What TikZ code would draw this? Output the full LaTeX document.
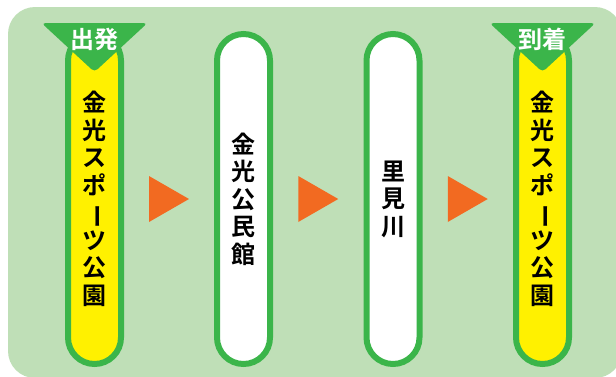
\documentclass[tikz,border=0pt]{standalone}
\usepackage{fontspec}
\usepackage{graphicx}
\newfontfamily\jp{Noto Sans CJK JP Bold}
\definecolor{bggreen}{HTML}{BFDFB7}
\definecolor{pillgreen}{HTML}{3BB54A}
\definecolor{pillyellow}{HTML}{FFF100}
\definecolor{arroworange}{HTML}{F26A21}
\newcommand{\vbar}{\rotatebox[origin=c]{-90}{ー}}
\tikzset{
  pill/.style={draw=pillgreen, line width=6pt, rounded corners=26.5pt,
    minimum width=53pt, minimum height=330pt, inner sep=0pt, align=center,
    font=\jp\fontsize{24}{27.5}\selectfont},
  endpill/.style={pill, fill=pillyellow},
  midpill/.style={pill, fill=white},
  flag/.style={fill=pillgreen, rounded corners=4pt},
  flaglabel/.style={text=white, inner sep=0pt, font=\jp\fontsize{24}{24}\selectfont},
  arrowtri/.style={fill=arroworange}
}
\begin{document}
\begin{tikzpicture}[x=1pt,y=-1pt]
\useasboundingbox (0,0) rectangle (616,376);
\fill[bggreen, rounded corners=27pt] (8,7) rectangle (622,378);

\node[endpill] (p1) at (94.5,199) {金\\光\\ス\\ポ\\\vbar\\ツ\\公\\園};
\node[midpill] (p2) at (243.5,199) {金\\光\\公\\民\\館};
\node[midpill] (p3) at (393,199) {里\\見\\川};
\node[endpill] (p4) at (542.5,199) {金\\光\\ス\\ポ\\\vbar\\ツ\\公\\園};

\fill[flag] (41.5,23) -- (147.5,23) -- (94.5,72) -- cycle;
\fill[flag] (489.5,23) -- (595.5,23) -- (542.5,72) -- cycle;
\node[flaglabel] (start) at (94.5,39) {出発};
\node[flaglabel] (goal) at (542.5,39) {到着};

\path (p1) -- (p2) coordinate[midway] (a1);
\path (p2) -- (p3) coordinate[midway] (a2);
\path (p3) -- (p4) coordinate[midway] (a3);
\foreach \a in {a1,a2,a3}
  \fill[arrowtri] (\a) ++(-20,-23) -- ++(40,23) -- ++(-40,23) -- cycle;
\end{tikzpicture}
\end{document}
